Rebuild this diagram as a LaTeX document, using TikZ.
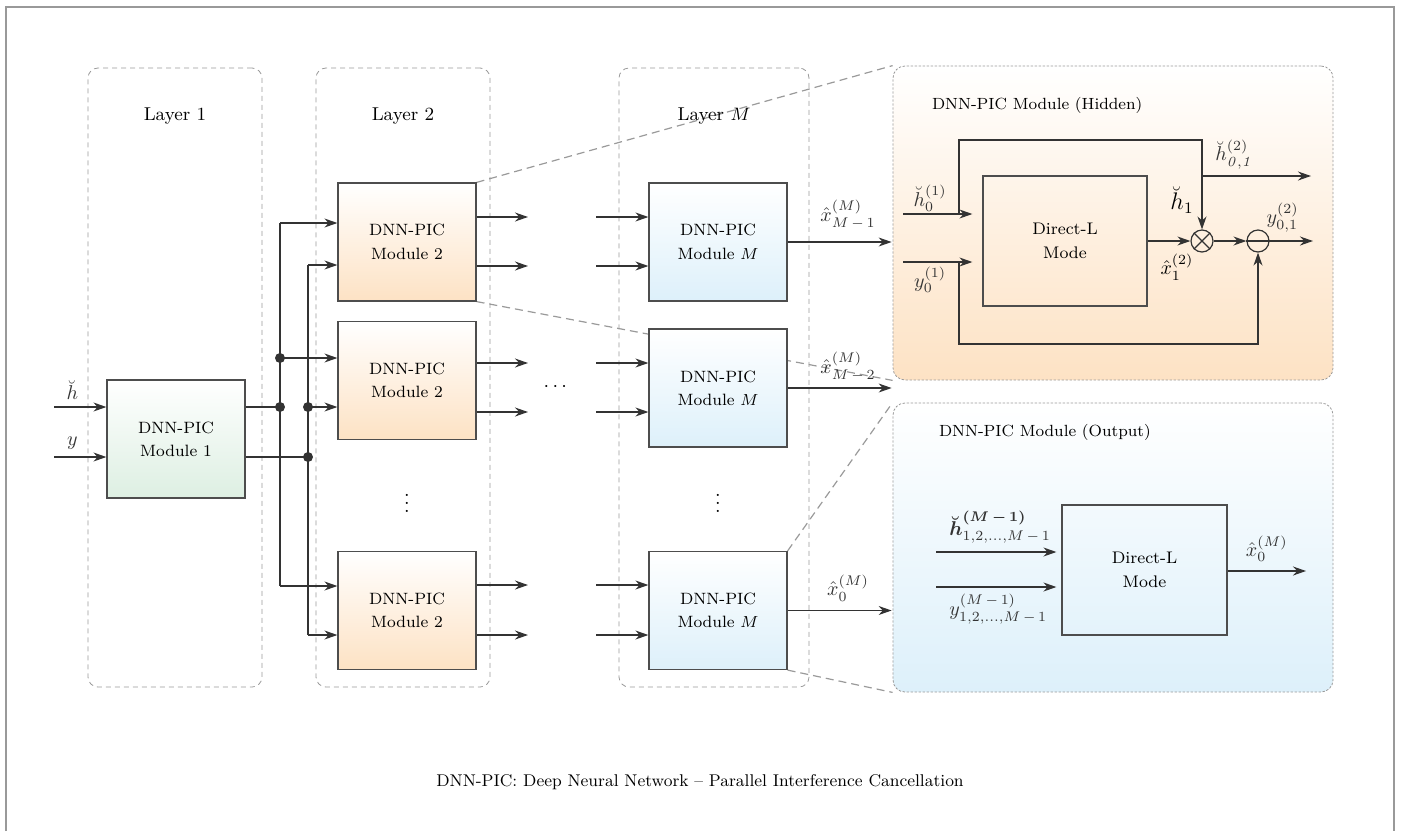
\documentclass[tikz,border=0pt]{standalone}
\usepackage{amsmath,amssymb}
\usetikzlibrary{calc, positioning, arrows.meta, backgrounds}
\definecolor{linegray}{HTML}{333333}
\definecolor{boxgray}{HTML}{4D4D4D}
\definecolor{dashgray}{HTML}{9A9A9A}
\definecolor{orangebot}{HTML}{FDE2C4}
\definecolor{bluebot}{HTML}{DDF0FA}
\definecolor{greenbot}{HTML}{DDEFE2}
\tikzstyle{layer}=[draw=dashgray, dash pattern=on 2.5pt off 2pt, rounded corners=5pt, minimum height=309.5pt]
\tikzstyle{module}=[draw=boxgray, line width=0.6pt, minimum width=69pt, minimum height=59pt, align=center, font=\fontsize{8.2}{11.7}\selectfont]
\tikzstyle{dlbox}=[draw=boxgray, line width=0.6pt, minimum width=82pt, minimum height=65pt, align=center, font=\fontsize{8.4}{11.7}\selectfont]
\tikzstyle{panel}=[draw=dashgray, dash pattern=on 1.2pt off 0.8pt, rounded corners=6pt, minimum width=220pt]
\tikzstyle{zoomline}=[dashgray, dash pattern=on 4pt off 2.5pt, line width=0.6pt]
\tikzstyle{arr}=[-{Stealth[length=6.5pt,width=4.5pt]}, linegray, line width=0.6pt]
\tikzstyle{wire}=[linegray, line width=0.6pt]
\tikzstyle{dot}=[circle, fill=linegray, inner sep=0pt, minimum size=5pt]
\tikzstyle{op}=[circle, draw=linegray, line width=0.6pt, minimum size=11pt, inner sep=0pt]

\begin{document}
\begin{tikzpicture}[x=0.5pt, y=-0.5pt]
\useasboundingbox (0,0) rectangle (1403,831);
\draw[gray!80, line width=0.8pt] (6,831) -- (6,7) -- (1394,7) -- (1394,831);

% layers
\node[layer, minimum width=87pt] (L1) at (175,377.5) {};
\node[layer, minimum width=87pt] (L2) at (403,377.5) {};
\node[layer, minimum width=95pt] (LM) at (714,377.5) {};
\node[font=\fontsize{9.3}{11}\selectfont] (L1lab) at ([yshift=-24pt]L1.north) {Layer 1};
\node[font=\fontsize{9.3}{11}\selectfont] (L2lab) at ([yshift=-24pt]L2.north) {Layer 2};
\node[font=\fontsize{9.3}{11}\selectfont] (LMlab) at ([yshift=-24pt]LM.north) {Layer $M$};

% modules
\node[module, top color=white, bottom color=greenbot] (m1) at (176,439) {DNN-PIC\\Module 1};
\node[module, top color=white, bottom color=orangebot] (m2a) at (407,242) {DNN-PIC\\Module 2};
\node[module, top color=white, bottom color=orangebot] (m2b) at (407,380.5) {DNN-PIC\\Module 2};
\node[module, top color=white, bottom color=orangebot] (m2c) at (407,610.5) {DNN-PIC\\Module 2};
\node[module, top color=white, bottom color=bluebot] (mMa) at (718,242) {DNN-PIC\\Module $M$};
\node[module, top color=white, bottom color=bluebot] (mMb) at (718,388) {DNN-PIC\\Module $M$};
\node[module, top color=white, bottom color=bluebot] (mMc) at (718,610.5) {DNN-PIC\\Module $M$};
\node (hdots) at (557,387) {$\cdots$};
\node (vd2) at (407,497) {$\vdots$};
\node (vdM) at (718,497) {$\vdots$};

% layer 1 to layer 2
\coordinate (h) at (54,407);
\coordinate (y) at (54,457);
\coordinate (bus1) at (280,0);
\coordinate (bus2) at (308,0);
\draw[arr] (h) -- (h -| m1.west) node[pos=0.35, above] {$\breve{h}$};
\draw[arr] (y) -- (y -| m1.west) node[pos=0.35, above] {$y$};
\draw[wire] (h -| m1.east) -- (h -| bus1);
\draw[wire] (y -| m1.east) -- (y -| bus2);
\coordinate (a1) at ([yshift=9.5pt]m2a.west);
\coordinate (a2) at ([yshift=-11.5pt]m2a.west);
\coordinate (b1) at ([yshift=11.25pt]m2b.west);
\coordinate (b2) at ([yshift=-13.25pt]m2b.west);
\coordinate (c1) at ([yshift=12.25pt]m2c.west);
\coordinate (c2) at ([yshift=-12.25pt]m2c.west);
\draw[wire] (bus1 |- a1) -- (bus1 |- c1);
\draw[wire] (bus2 |- a2) -- (bus2 |- c2);
\foreach \p in {a1,b1,c1} \draw[arr] (bus1 |- \p) -- (\p);
\foreach \p in {a2,b2,c2} \draw[arr] (bus2 |- \p) -- (\p);
\node[dot] (d1) at (bus1 |- b1) {};
\node[dot] (d2) at (bus1 |- h) {};
\node[dot] (d3) at (bus2 |- b2) {};
\node[dot] (d4) at (bus2 |- y) {};

% layer 2 to layer M
\foreach \yy in {217,266,363,412,585,635} {
  \coordinate (o) at (528,\yy);
  \coordinate (i) at (596,\yy);
  \draw[arr] (o -| m2a.east) -- (o);
  \draw[arr] (i) -- (i -| mMa.west);
}
\draw[arr] (mMa.east) -- ++(52pt,0) node[pos=0.58, above=3pt] {$\hat{x}^{(M)}_{M\,-\,1}$};
\draw[arr] (mMb.east) -- ++(52pt,0) node[pos=0.58, above=0pt] {$\hat{x}^{(M)}_{M\,-\,2}$};
\draw[arr] (mMc.east) -- ++(52pt,0) node[pos=0.58, above=1pt] {$\hat{x}^{(M)}_{0}$};

% hidden module
\node[panel, minimum height=157pt, top color=white, bottom color=orangebot] (hid) at (1113,223) {};
\node[right, font=\fontsize{8.1}{11}\selectfont] (hidlab) at (925,105) {DNN-PIC Module (Hidden)};
\node[dlbox] (dl1) at (1065,241) {Direct-L\\Mode};
\node[op] (ot) at (1202,241) {};
\node[op] (om) at (1258,241) {};
\draw[wire] (ot.45) -- (ot.225) (ot.135) -- (ot.315);
\draw[wire] (om.west) -- (om.east);
\coordinate (hi1) at (903,214);
\coordinate (hi2) at (903,262);
\coordinate (tap1) at (959,140);
\coordinate (tap2) at (959,344);
\coordinate (br) at (1311,176);
\coordinate (yo) at (1313,241);
\draw[arr] (hi1) -- ([xshift=-5pt]hi1 -| dl1.west) node[pos=0.39, above, inner sep=1pt] {$\breve{h}_0^{(1)}$};
\draw[arr] (hi2) -- ([xshift=-5pt]hi2 -| dl1.west) node[pos=0.39, below, inner sep=2pt] {$y_0^{(1)}$};
\draw[arr] (tap1 |- hi1) -- (tap1) -| (ot.north);
\draw[arr] (tap2 |- hi2) -- (tap2) -| (om.south);
\draw[arr] (ot |- br) -- (br) node[pos=0, above right=0pt and 3pt] {$\breve{h}^{(2)}_{\mathit{0,1}}$};
\draw[arr] (dl1.east) -- (ot.west);
\draw[arr] (ot.east) -- (om.west);
\draw[arr] (om.east) -- (yo) node[pos=0.3, above=1pt] {$y^{(2)}_{0,1}$};
\node[font=\large] (h1lab) at ([xshift=-10pt, yshift=20.5pt]ot.center) {$\breve{h}_1$};
\node (x1lab) at ([xshift=-12.5pt, yshift=-13pt]ot.center) {$\hat{x}_1^{(2)}$};

% output module
\node[panel, minimum height=144.5pt, top color=white, bottom color=bluebot] (outp) at (1113,547.5) {};
\node[right, font=\fontsize{8.1}{11}\selectfont] (outlab) at (932,432) {DNN-PIC Module (Output)};
\node[dlbox, minimum width=82.5pt] (dl2) at (1144.5,570) {Direct-L\\Mode};
\coordinate (oi1) at (936,552);
\coordinate (oi2) at (936,587);
\coordinate (xo) at (1306,571);
\draw[arr] (oi1) -- ([xshift=-2.5pt]oi1 -| dl2.west) node[pos=0, above right=1pt and 3pt] {$\boldsymbol{\breve{h}}^{\boldsymbol{(M\,-\,1)}}_{1,2,\ldots,M\,-\,1}$};
\draw[arr] (oi2) -- ([xshift=-2.5pt]oi2 -| dl2.west) node[pos=0, below right=0pt and 3pt] {$y^{(M\,-\,1)}_{1,2,\ldots,M\,-\,1}$};
\draw[arr] (dl2.east |- xo) -- (xo) node[midway, above=1pt] {$\hat{x}_0^{(M)}$};

% zoom lines
\begin{scope}[on background layer]
\draw[zoomline] (m2a.north east) -- (hid.north west);
\draw[zoomline] (m2a.south east) -- (hid.south west);
\draw[zoomline] (mMc.north east) -- (outp.north west);
\draw[zoomline] (mMc.south east) -- (outp.south west);
\end{scope}

\node[font=\fontsize{8.5}{11}\selectfont] (cap) at (700,782) {DNN-PIC: Deep Neural Network -- Parallel Interference Cancellation};
\end{tikzpicture}
\end{document}
